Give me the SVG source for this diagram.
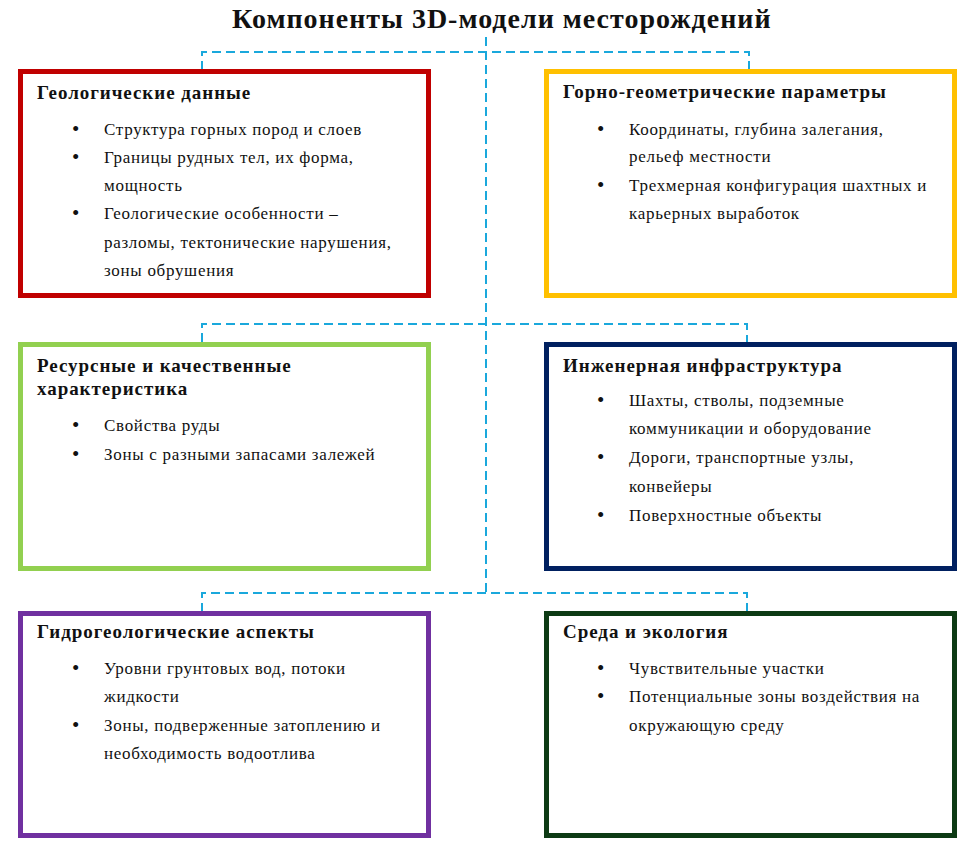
<svg xmlns="http://www.w3.org/2000/svg" width="973" height="861" viewBox="0 0 973 861">
<style>
.box{fill:#fff;stroke-width:5}
.h{font-family:"Liberation Serif","Times New Roman",serif;font-weight:bold;font-size:19px;letter-spacing:0.95px;fill:#111}
.t{font-family:"Liberation Serif","Times New Roman",serif;font-size:17px;letter-spacing:0.7px;fill:#111}
.b{font-family:"Liberation Serif","Times New Roman",serif;font-size:21px;fill:#111}
.title{font-family:"Liberation Serif","Times New Roman",serif;font-weight:bold;font-size:28px;letter-spacing:1px;fill:#111}
.c{fill:none;stroke:#1AA8DC;stroke-width:2;stroke-dasharray:9 5}
</style>
<rect width="973" height="861" fill="#fff"/>
<text class="title" x="232" y="28">Компоненты 3D-модели месторождений</text>
<g id="connectors">
<path class="c" d="M486 37 V592"/>
<path class="c" d="M202 70 V52 H749 V70"/>
<path class="c" d="M202 342 V324 H747 V342"/>
<path class="c" d="M202 612 V593 H747 V612"/>
</g>
<g id="geo">
<rect class="box" x="20.5" y="71.5" width="408" height="224" stroke="#C00000"/>
<text class="h" x="37" y="99">Геологические данные</text>
<g class="b">
<text x="72" y="136">•</text><text x="72" y="164">•</text><text x="72" y="220">•</text>
</g>
<g class="t">
<text x="104" y="135">Структура горных пород и слоев</text>
<text x="104" y="163">Границы рудных тел, их форма,</text>
<text x="104" y="191">мощность</text>
<text x="104" y="219">Геологические особенности –</text>
<text x="104" y="248">разломы, тектонические нарушения,</text>
<text x="104" y="276">зоны обрушения</text>
</g>
</g>
<g id="mining">
<rect class="box" x="546.5" y="71.5" width="408" height="224" stroke="#FFC000"/>
<text class="h" x="563" y="98">Горно-геометрические параметры</text>
<g class="b">
<text x="597" y="136">•</text><text x="597" y="192">•</text>
</g>
<g class="t">
<text x="629" y="135">Координаты, глубина залегания,</text>
<text x="629" y="162">рельеф местности</text>
<text x="629" y="191">Трехмерная конфигурация шахтных и</text>
<text x="629" y="219">карьерных выработок</text>
</g>
</g>
<g id="resource">
<rect class="box" x="20.5" y="344.5" width="408" height="224" stroke="#92D050"/>
<text class="h" x="37" y="372">Ресурсные и качественные</text>
<text class="h" x="37" y="395">характеристика</text>
<g class="b">
<text x="72" y="432">•</text><text x="72" y="461">•</text>
</g>
<g class="t">
<text x="104" y="431">Свойства руды</text>
<text x="104" y="460">Зоны с разными запасами залежей</text>
</g>
</g>
<g id="infra">
<rect class="box" x="546.5" y="344.5" width="408" height="224" stroke="#002060"/>
<text class="h" x="563" y="372">Инженерная инфраструктура</text>
<g class="b">
<text x="597" y="407">•</text><text x="597" y="464">•</text><text x="597" y="522">•</text>
</g>
<g class="t">
<text x="629" y="406">Шахты, стволы, подземные</text>
<text x="629" y="434">коммуникации и оборудование</text>
<text x="629" y="463">Дороги, транспортные узлы,</text>
<text x="629" y="492">конвейеры</text>
<text x="629" y="521">Поверхностные объекты</text>
</g>
</g>
<g id="hydro">
<rect class="box" x="20.5" y="613.5" width="408" height="222" stroke="#7030A0"/>
<text class="h" x="37" y="638">Гидрогеологические аспекты</text>
<g class="b">
<text x="72" y="675">•</text><text x="72" y="732">•</text>
</g>
<g class="t">
<text x="104" y="674">Уровни грунтовых вод, потоки</text>
<text x="104" y="702">жидкости</text>
<text x="104" y="731">Зоны, подверженные затоплению и</text>
<text x="104" y="759">необходимость водоотлива</text>
</g>
</g>
<g id="eco">
<rect class="box" x="546.5" y="613.5" width="408" height="222" stroke="#0D3B14"/>
<text class="h" x="563" y="638">Среда и экология</text>
<g class="b">
<text x="597" y="675">•</text><text x="597" y="703">•</text>
</g>
<g class="t">
<text x="629" y="674">Чувствительные участки</text>
<text x="629" y="702">Потенциальные зоны воздействия на</text>
<text x="629" y="731">окружающую среду</text>
</g>
</g>
</svg>
